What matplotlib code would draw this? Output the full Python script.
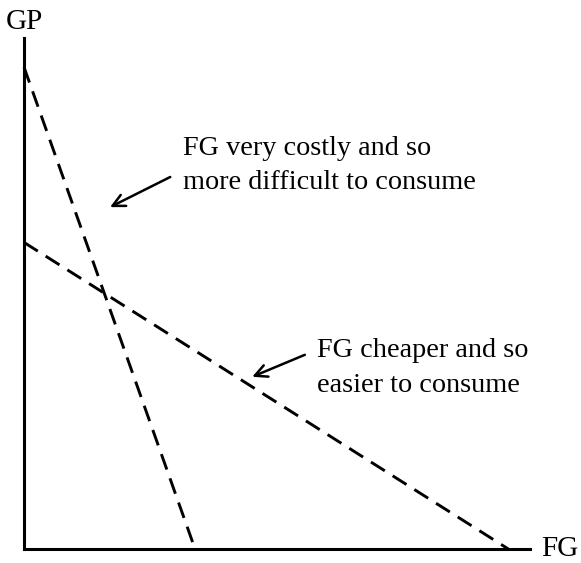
import matplotlib
matplotlib.use("Agg")
import matplotlib.pyplot as plt

plt.rcParams['font.family'] = ['Liberation Serif', 'DejaVu Serif']

# budget lines: (GP intercept, FG intercept)
costly_fg = [0.0, 3.38]
costly_gp = [9.43, 0.0]
cheap_fg = [0.0, 9.57]
cheap_gp = [6.0, 0.0]

label_costly = "FG very costly and so\nmore difficult to consume"
label_cheap = "FG cheaper and so\neasier to consume"

fig = plt.figure(figsize=(5.81, 5.63), dpi=100)
ax = fig.add_axes([0.0413, 0.0249, 0.871, 0.9076])
ax.set_xlim(0, 10)
ax.set_ylim(0, 10)

dash = (5.6, 3.2)
ax.plot(costly_fg, costly_gp, color='black', lw=2.1, dashes=dash, clip_on=False)
ax.plot(cheap_fg, cheap_gp, color='black', lw=2.1, dashes=dash, clip_on=False)

for s in ['top', 'right']:
    ax.spines[s].set_visible(False)
for s in ['left', 'bottom']:
    ax.spines[s].set_linewidth(2.2)
ax.set_xticks([])
ax.set_yticks([])

ax.text(0.0, 10.31, "GP", fontsize=21, ha='center', va='center', clip_on=False)
ax.text(10.59, 0.0, "FG", fontsize=21, ha='center', va='center', clip_on=False)

arrow = dict(arrowstyle='->', lw=1.8, color='black', mutation_scale=22, shrinkA=0, shrinkB=0)
ax.annotate("", xy=(1.70, 6.69), xytext=(2.89, 7.28), arrowprops=arrow)
ax.annotate("", xy=(4.51, 3.37), xytext=(5.55, 3.80), arrowprops=arrow)

ax.text(3.14, 7.5, label_costly, fontsize=20.3, ha='left', va='center', linespacing=1.5)
ax.text(5.79, 3.54, label_cheap, fontsize=20.3, ha='left', va='center', linespacing=1.5)

fig.savefig("out.png", dpi=100)
